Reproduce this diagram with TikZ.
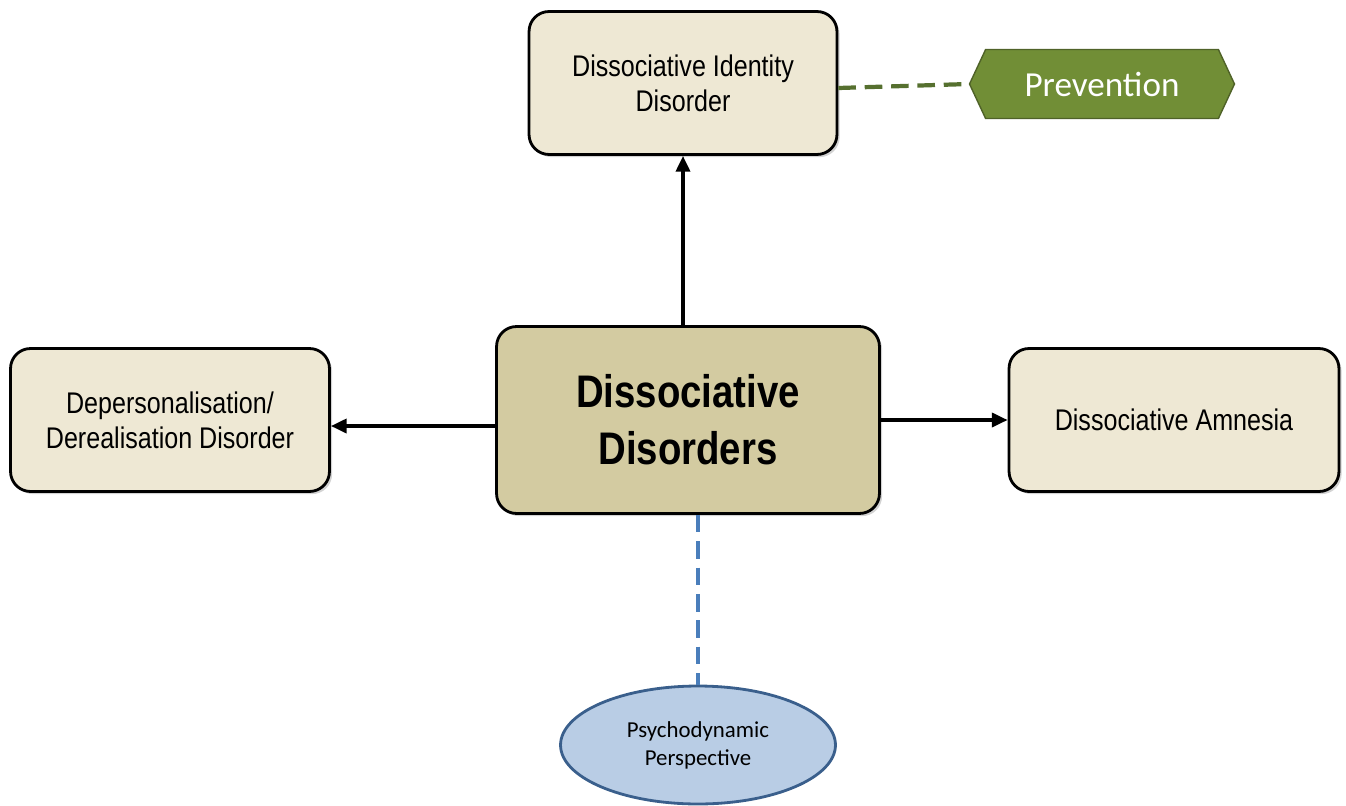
\documentclass[tikz,border=0pt]{standalone}
\usepackage{fontspec}
\usepackage{tikz}
\setmainfont{Liberation Sans}
\newfontfamily\narrowfont{Liberation Sans}[FakeStretch=0.84]
\newfontfamily\calfont{Carlito}
\usetikzlibrary{shapes.geometric, shapes.symbols, arrows.meta, positioning, shadows}
\definecolor{boxfill}{HTML}{EEE8D4}
\definecolor{corefill}{HTML}{D3CBA1}
\definecolor{prevgreen}{HTML}{718E36}
\definecolor{prevedge}{HTML}{4F6228}
\definecolor{linkgreen}{HTML}{56702F}
\definecolor{linkblue}{HTML}{4A7EBB}
\definecolor{ovalfill}{HTML}{B9CDE5}
\definecolor{ovaledge}{HTML}{3A5F8C}

\begin{document}
\begin{tikzpicture}[
    x=0.02cm, y=-0.02cm,
    disorder/.style={rectangle, draw=black, line width=1.6pt, fill=boxfill, rounded corners=0.4cm, minimum height=2.86cm, align=center, font=\narrowfont\fontsize{17}{20}\selectfont, drop shadow={opacity=0.35, shadow xshift=1.5pt, shadow yshift=-1.5pt}},
    core/.style={disorder, fill=corefill, minimum width=7.66cm, minimum height=3.74cm, font=\narrowfont\bfseries\fontsize{26}{32.5}\selectfont},
    prevtag/.style={signal, signal to=west and east, signal pointer angle=130, draw=prevedge, line width=0.8pt, fill=prevgreen, text=white, minimum width=5.3cm, minimum height=1.38cm, font=\calfont\fontsize{20}{24}\selectfont},
    perspective/.style={ellipse, draw=ovaledge, line width=1.6pt, fill=ovalfill, minimum width=5.5cm, minimum height=2.36cm, align=center, font=\calfont\fontsize{13}{16}\selectfont},
    branch/.style={-{Triangle[length=9pt, width=8pt]}, line width=2pt, black},
    link/.style={dashed, dash pattern=on 10pt off 5pt, line width=2.4pt},
]
    \useasboundingbox (0,0) rectangle (1346,805);

    \node[core] (dd) at (688,420) {Dissociative\\Disorders};
    \node[disorder, minimum width=6.16cm] (did) at (683,83) {Dissociative Identity\\Disorder};
    \node[disorder, minimum width=6.38cm] (dpdr) at (170,420) {Depersonalisation/\\Derealisation Disorder};
    \node[disorder, minimum width=6.6cm] (da) at (1174,420) {Dissociative Amnesia};
    \node[prevtag] (prev) at (1102,84) {Prevention};
    \node[perspective] (psy) at (698,745) {Psychodynamic\\Perspective};

    % arrows out of the core box
    \draw[branch] (dd.north -| did.south) -- (did.south);
    \draw[branch] (dd.west |- 0,426) -- (dpdr.east |- 0,426);
    \draw[branch] (dd.east) -- (da.west);

    % dashed links
    \draw[link, linkgreen] (did.east |- 0,88) -- (prev.west);
    \draw[link, linkblue] (dd.south -| psy.north) -- (psy.north);
\end{tikzpicture}
\end{document}
